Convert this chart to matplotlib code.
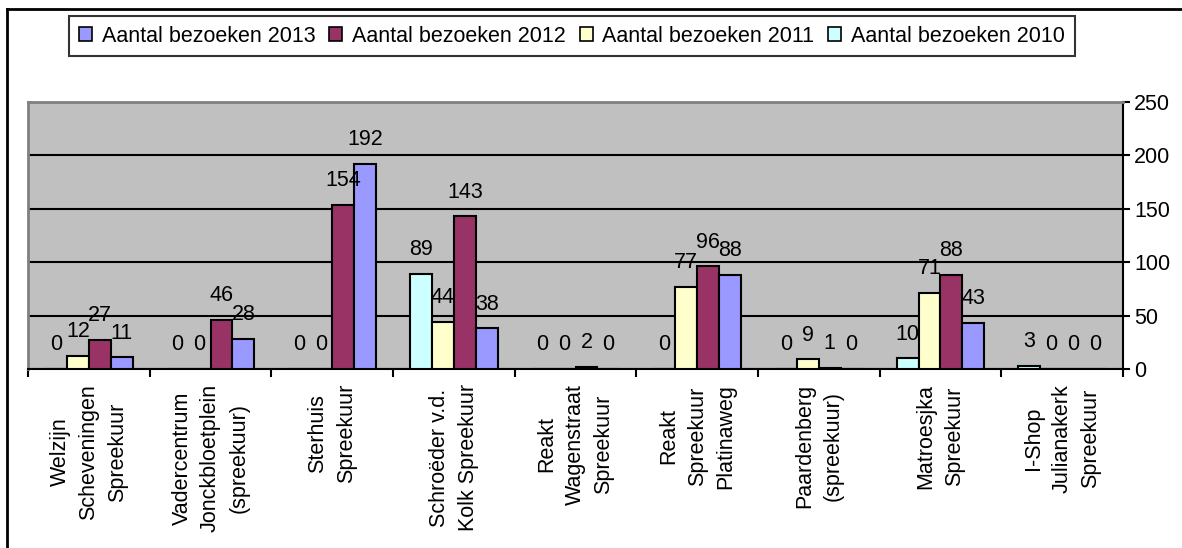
import matplotlib
matplotlib.use("Agg")
import matplotlib.pyplot as plt
import numpy as np
from matplotlib.lines import Line2D

plt.rcParams['font.family'] = ['Liberation Sans', 'DejaVu Sans']

categories = [
    "Welzijn\nScheveningen\nSpreekuur",
    "Vadercentrum\nJonckbloetplein\n(spreekuur)",
    "Sterhuis\nSpreekuur",
    "Schroëder v.d.\nKolk Spreekuur",
    "Reakt\nWagenstraat\nSpreekuur",
    "Reakt\nSpreekuur\nPlatinaweg",
    "Paardenberg\n(spreekuur)",
    "Matroesjka\nSpreekuur",
    "I-Shop\nJulianakerk\nSpreekuur",
]
bezoeken_2010 = [0, 0, 0, 89, 0, 0, 0, 10, 3]
bezoeken_2011 = [12, 0, 0, 44, 0, 77, 9, 71, 0]
bezoeken_2012 = [27, 46, 154, 143, 2, 96, 1, 88, 0]
bezoeken_2013 = [11, 28, 192, 38, 0, 88, 0, 43, 0]
series_names = ["Aantal bezoeken 2010", "Aantal bezoeken 2011",
                "Aantal bezoeken 2012", "Aantal bezoeken 2013"]
series_colors = ["#CCFFFF", "#FFFFCC", "#993366", "#9999FF"]
y_ticks = [0, 50, 100, 150, 200, 250]

FS = 15.5
W, H = 1182, 548
fig = plt.figure(figsize=(W / 100, H / 100), dpi=100)
ax = fig.add_axes([28 / W, 1 - 369 / H, (1123 - 28) / W, (369 - 102) / H])
ax.set_facecolor("#C0C0C0")

n = len(categories)
x = np.arange(n) + 0.5
bw = 0.18
all_series = [bezoeken_2010, bezoeken_2011, bezoeken_2012, bezoeken_2013]
handles = []
for i, (vals, name, col) in enumerate(zip(all_series, series_names, series_colors)):
    pos = x + (i - 1.5) * bw
    bars = ax.bar(pos, vals, width=bw, color=col, edgecolor="black",
                  linewidth=1.5, label=name, zorder=3)
    handles.append(bars)
    for p, v in zip(pos, vals):
        ax.annotate(str(v), xy=(p, v), xytext=(0, 13.5), textcoords="offset points",
                    ha="center", va="baseline", fontsize=FS, color="black",
                    annotation_clip=False, zorder=5)

ax.set_xlim(0, n)
ax.set_ylim(0, 250)
ax.yaxis.tick_right()
ax.set_yticks(y_ticks)
ax.set_yticklabels([str(t) for t in y_ticks], fontsize=FS)
ax.tick_params(axis="y", direction="out", length=5, width=1.5, pad=3)
ax.set_xticks(np.arange(n + 1))
ax.set_xticklabels([])
ax.tick_params(axis="x", direction="out", length=6, width=1.5)
ax.grid(axis="y", color="black", linewidth=1.5, zorder=1)
ax.set_axisbelow(True)

for s in ["top", "left"]:
    ax.spines[s].set_color("#808080")
    ax.spines[s].set_linewidth(2)
for s in ["right", "bottom"]:
    ax.spines[s].set_color("black")
    ax.spines[s].set_linewidth(1.5)

for xi, lab in zip(x, categories):
    ax.text(xi, -14, lab, rotation=90, ha="center", va="top",
            multialignment="center", fontsize=FS, linespacing=1.47,
            transform=ax.transData, clip_on=False)

leg = fig.legend(handles[::-1], series_names[::-1], loc="center",
                 bbox_to_anchor=(572 / W, 1 - 36 / H), bbox_transform=fig.transFigure,
                 ncol=4, fontsize=FS, frameon=True, fancybox=False,
                 handlelength=0.6, handleheight=0.6, handletextpad=0.45,
                 columnspacing=0.65, borderpad=0.45, borderaxespad=0)
leg.get_frame().set_edgecolor("black")
leg.get_frame().set_linewidth(1.5)
for h in leg.legend_handles:
    h.set_linewidth(1.2)

# outer chart border (top and left visible)
fig.add_artist(Line2D([7 / W, 7 / W], [0, 1 - 9 / H], transform=fig.transFigure,
                      color="black", linewidth=2))
fig.add_artist(Line2D([7 / W, 1], [1 - 9 / H, 1 - 9 / H], transform=fig.transFigure,
                      color="black", linewidth=2))

fig.savefig("out.png", dpi=100, facecolor="white")
